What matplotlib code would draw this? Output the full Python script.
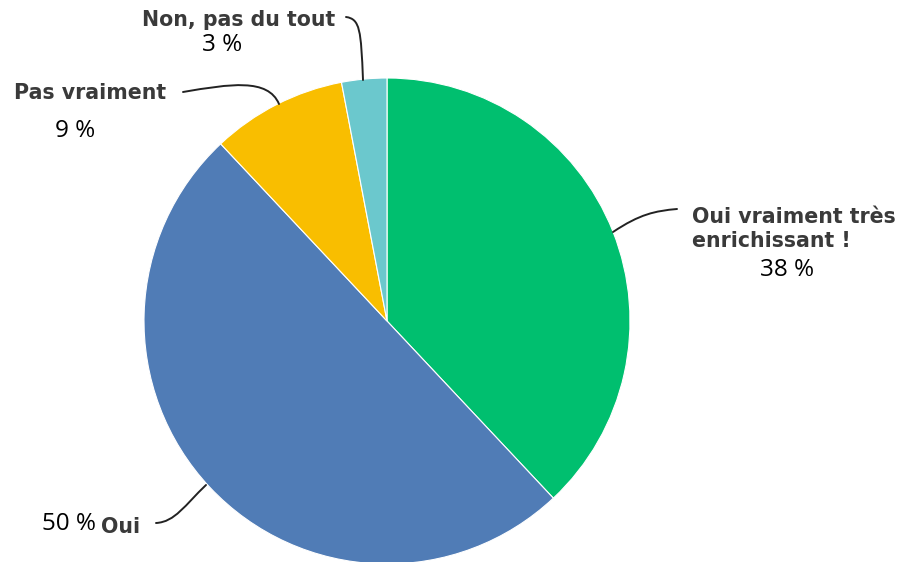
import matplotlib
matplotlib.use("Agg")
import matplotlib.pyplot as plt
from matplotlib.patches import PathPatch
from matplotlib.path import Path

categories = ["Oui vraiment très\nenrichissant !", "Oui", "Pas vraiment", "Non, pas du tout"]
values = [38, 50, 9, 3]
pct_labels = ["38 %", "50 %", "9 %", "3 %"]
colors = ["#00BF6F", "#507CB6", "#F9BE00", "#6BC8CD"]

W, H = 902, 562
fig = plt.figure(figsize=(W / 100, H / 100), dpi=100)
ax = fig.add_axes([0, 0, 1, 1])

def Y(y):
    return H - y

cx, cy, r = 387, 321, 243
ax.pie(values, colors=colors, startangle=90, counterclock=False,
       center=(cx, Y(cy)), radius=r, frame=True,
       wedgeprops=dict(edgecolor="white", linewidth=0.8))
ax.set_xlim(0, W)
ax.set_ylim(0, H)
ax.axis("off")
ax.set_aspect("equal")

lab_font = dict(family=["DejaVu Sans"], fontweight="bold", color="#3a3a3a", fontsize=14.8)
pct_font = dict(family=["Open Sans", "DejaVu Sans"], color="black", fontsize=17.5)

# Oui vraiment très enrichissant
ax.text(692, Y(229), categories[0], ha="left", va="center", linespacing=1.3, **lab_font)
ax.text(787, Y(270), pct_labels[0], ha="center", va="center", **pct_font)
# Oui
ax.text(101, Y(527), categories[1], ha="left", va="center", **lab_font)
ax.text(96, Y(524), pct_labels[1], ha="right", va="center", **pct_font)
# Pas vraiment
ax.text(14, Y(93), categories[2], ha="left", va="center", **lab_font)
ax.text(75, Y(131), pct_labels[2], ha="center", va="center", **pct_font)
# Non, pas du tout
ax.text(142, Y(20), categories[3], ha="left", va="center", **lab_font)
ax.text(222, Y(45), pct_labels[3], ha="center", va="center", **pct_font)

def bez(pts):
    verts = [(x, Y(y)) for x, y in pts]
    codes = [Path.MOVETO, Path.CURVE4, Path.CURVE4, Path.CURVE4]
    ax.add_patch(PathPatch(Path(verts, codes), fill=False, edgecolor="#222222",
                           lw=1.4, zorder=5, capstyle="round"))

bez([(677, 209), (655, 211), (640, 214), (613, 232)])
bez([(156, 523), (175, 522), (185, 505), (206, 485)])
bez([(183, 92), (230, 84), (268, 78), (279, 104)])
bez([(346, 17), (360, 19), (361, 30), (363, 80)])

fig.savefig("out.png", dpi=100)
